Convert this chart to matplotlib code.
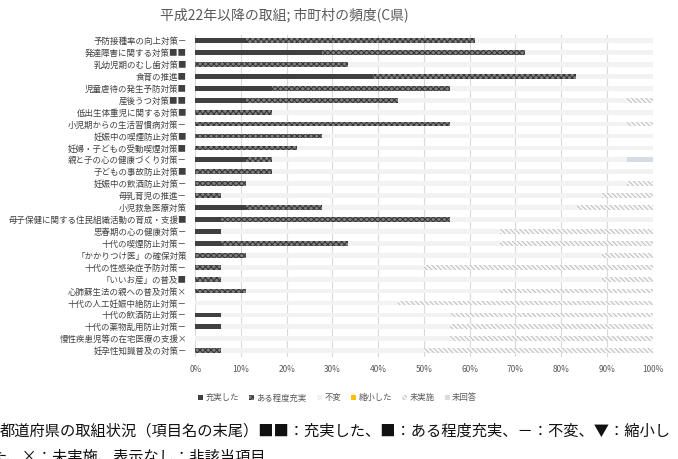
"""
plot.py
=======
Stacked 100% horizontal bars: frequency of municipal initiatives since H22 (prefecture C).
"""

import matplotlib

matplotlib.use("Agg")
import matplotlib.pyplot as plt  # noqa: E402
import numpy as np  # noqa: E402
from matplotlib.patches import Patch  # noqa: E402

plt.rcParams["font.family"] = ["Noto Sans CJK JP", "DejaVu Sans"]
plt.rcParams["hatch.linewidth"] = 0.7

# --- data (percent of municipalities) --------------------------------------
categories = [
    "予防接種率の向上対策－",
    "発達障害に関する対策■■",
    "乳幼児期のむし歯対策■",
    "食育の推進■",
    "児童虐待の発生予防対策■",
    "産後うつ対策■■",
    "低出生体重児に関する対策■",
    "小児期からの生活習慣病対策－",
    "妊娠中の喫煙防止対策■",
    "妊婦・子どもの受動喫煙対策■",
    "親と子の心の健康づくり対策－",
    "子どもの事故防止対策■",
    "妊娠中の飲酒防止対策－",
    "母乳育児の推進－",
    "小児救急医療対策",
    "母子保健に関する住民組織活動の育成・支援■",
    "思春期の心の健康対策－",
    "十代の喫煙防止対策－",
    "「かかりつけ医」の確保対策",
    "十代の性感染症予防対策－",
    "「いいお産」の普及■",
    "心肺蘇生法の親への普及対策×",
    "十代の人工妊娠中絶防止対策－",
    "十代の飲酒防止対策－",
    "十代の薬物乱用防止対策－",
    "慢性疾患児等の在宅医療の支援×",
    "妊孕性知識普及の対策－",
]

jujitsu = [11.1, 27.8, 0, 38.9, 16.7, 11.1, 0, 0, 0, 0, 11.1, 0, 0, 0,
           11.1, 5.6, 5.6, 5.6, 0, 0, 0, 0, 0, 5.6, 5.6, 0, 0]
aru_teido = [50.0, 44.4, 33.3, 44.4, 38.9, 33.3, 16.7, 55.6, 27.8, 22.2, 5.6, 16.7, 11.1, 5.6,
             16.7, 50.0, 0, 27.8, 11.1, 5.6, 5.6, 11.1, 0, 0, 0, 0, 5.6]
fuhen = [38.9, 27.8, 66.7, 16.7, 44.4, 50.0, 83.3, 38.9, 72.2, 77.8, 77.8, 83.3, 83.3, 83.3,
         55.6, 44.4, 61.1, 33.3, 77.8, 44.4, 83.3, 55.6, 44.4, 50.0, 50.0, 55.6, 44.4]
shukusho = [0] * 27
mijisshi = [0, 0, 0, 0, 0, 5.6, 0, 5.6, 0, 0, 0, 0, 5.6, 11.1,
            16.7, 0, 33.3, 33.3, 11.1, 50.0, 11.1, 33.3, 55.6, 44.4, 44.4, 44.4, 50.0]
mikaito = [0, 0, 0, 0, 0, 0, 0, 0, 0, 0, 5.6, 0, 0, 0,
           0, 0, 0, 0, 0, 0, 0, 0, 0, 0, 0, 0, 0]

series_names = ["充実した", "ある程度充実", "不変", "縮小した", "未実施", "未回答"]
x_ticks = [0, 10, 20, 30, 40, 50, 60, 70, 80, 90, 100]

title = "平成22年以降の取組; 市町村の頻度(C県)"
note_1 = "都道府県の取組状況（項目名の末尾）■■：充実した、■：ある程度充実、－：不変、▼：縮小し"
note_2 = "た、×：未実施、表示なし：非該当項目"

# --- styles -----------------------------------------------------------------
styles = [
    dict(facecolor="#404040", edgecolor="#404040", hatch=None),
    dict(facecolor="#808080", edgecolor="#333333", hatch="xxxxxx"),
    dict(facecolor="#f2f2f2", edgecolor="#f2f2f2", hatch=None),
    dict(facecolor="#ffc000", edgecolor="#ffc000", hatch=None),
    dict(facecolor="#f7f7f7", edgecolor="#bdbdbd", hatch="\\\\\\\\\\\\\\"),
    dict(facecolor="#d6dce5", edgecolor="#d6dce5", hatch=None),
]

fig = plt.figure(figsize=(6.78, 4.59), dpi=100)
ax = fig.add_axes([0.288, 0.223, 0.6746, 0.7015])

y = np.arange(len(categories))
data = [jujitsu, aru_teido, fuhen, shukusho, mijisshi, mikaito]
left = np.zeros(len(categories))
for vals, st in zip(data, styles):
    vals = np.asarray(vals, dtype=float)
    ax.barh(y, vals, left=left, height=0.4, linewidth=0, zorder=2, **st)
    left += vals

ax.set_xlim(0, 100)
ax.set_ylim(len(categories) - 0.5, -0.5)
ax.set_xticks(x_ticks, [f"{t}%" for t in x_ticks])
ax.set_yticks(y, categories)
ax.tick_params(axis="x", length=0, labelsize=6, colors="#595959", pad=6)
ax.tick_params(axis="y", length=0, labelsize=6.1, colors="#404040", pad=6)
ax.grid(axis="x", color="#d9d9d9", linewidth=0.8, zorder=0)
ax.set_axisbelow(True)
for s in ax.spines.values():
    s.set_visible(False)

fig.text(0.419, 0.967, title, ha="center", va="center", fontsize=10, color="#595959")

handles = [Patch(label=n, linewidth=0, **st) for n, st in zip(series_names, styles)]
fig.legend(handles=handles, loc="center left", bbox_to_anchor=(0.281, 0.133), ncol=6,
           frameon=False, fontsize=6, handlelength=0.6, handleheight=0.6,
           handletextpad=0.3, columnspacing=1.2, labelcolor="#595959")

fig.text(0.0, 0.062, note_1, ha="left", va="center", fontsize=11, color="#111111")
fig.text(-0.012, 0.004, note_2, ha="left", va="center", fontsize=11, color="#111111")

fig.savefig("out.png", dpi=100)
